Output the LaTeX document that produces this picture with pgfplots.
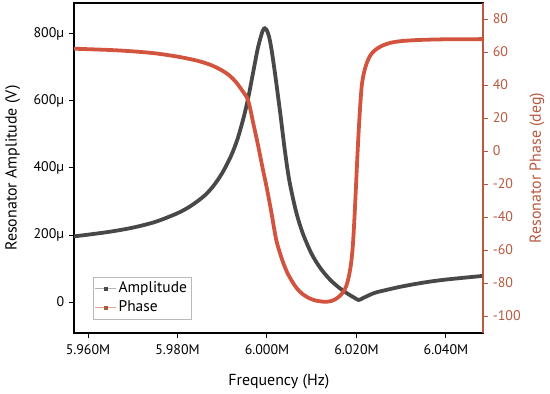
\documentclass[border=0pt]{standalone}
\usepackage{pgfplots}
\pgfplotsset{compat=1.18}
\usepackage{fontspec}
\setmainfont{PT Sans}
\definecolor{ampc}{RGB}{72,72,72}
\definecolor{phc}{RGB}{210,84,62}
\definecolor{phbrown}{RGB}{165,95,60}
\definecolor{raxis}{RGB}{185,88,62}
\begin{document}
\fontsize{14}{16}\selectfont
\begin{tikzpicture}
\path[use as bounding box] (-74bp,-61bp) rectangle (476bp,333bp);
\begin{axis}[
  scale only axis, width=409bp, height=330bp,
  at={(0,0)}, anchor=south west,
  xmin=5.95687, xmax=6.04828,
  ymin=-92.5, ymax=892.5,
  xtick={5.96,5.98,6.00,6.02,6.04},
  xticklabels={5.960M,5.980M,6.000M,6.020M,6.040M},
  ytick={0,200,400,600,800},
  yticklabels={0,200\char"00B5,400\char"00B5,600\char"00B5,800\char"00B5},
  xtick pos=bottom, ytick pos=left,
  tick align=outside, major tick length=5bp,
  axis line style={line width=1.2pt},
  tick style={line width=1pt, black},
  ticklabel style={font=\fontsize{14}{16}\selectfont},
  xticklabel style={yshift=-2bp},
  xlabel={Frequency (Hz)},
  ylabel={Resonator Amplitude (V)},
  label style={font=\fontsize{16}{18}\selectfont},
  xlabel style={at={(axis description cs:0.501,-0.148)}, anchor=center},
  ylabel style={at={(axis description cs:-0.150,0.5)}, anchor=center},
  legend style={at={(axis description cs:0.046,0.042)}, anchor=south west,
    draw=gray!55, line width=0.5pt, font=\fontsize{15.5}{17}\selectfont,
    inner xsep=2pt, inner ysep=3pt, row sep=2pt},
  legend cell align=left,
]
\addplot[ampc, line width=3.8pt, smooth, forget plot] coordinates {
(5.95687,196) (5.9600,201) (5.9650,210) (5.9700,222) (5.9750,239)
(5.9800,265) (5.9830,287) (5.9860,317) (5.9880,346) (5.9900,385)
(5.9920,437) (5.9935,490) (5.9950,562) (5.9960,622) (5.9970,692)
(5.9980,760) (5.9990,808) (5.9995,817) (6.0000,810) (6.0005,790)
(6.0010,755) (6.0015,710) (6.0020,662) (6.0030,560) (6.0040,452)
(6.0050,362) (6.0065,270) (6.0080,205) (6.0100,143) (6.0120,100)
(6.0140,68) (6.0160,44) (6.0180,25) (6.0195,13) (6.0205,6)
(6.0215,12) (6.0240,27) (6.0270,37) (6.0300,46) (6.0350,58)
(6.0400,67) (6.04828,78)
};
\addlegendimage{legend image code/.code={
  \draw[gray!60, line width=0.6pt] (0cm,0cm) -- (0.74cm,0cm);
  \fill[ampc] (0.37cm-1.6pt,-1.6pt) rectangle ++(3.2pt,3.2pt);}}
\addlegendentry{Amplitude}
\addlegendimage{legend image code/.code={
  \draw[phc!55, line width=0.6pt] (0cm,0cm) -- (0.74cm,0cm);
  \fill[phbrown] (0.37cm-1.6pt,-1.6pt) rectangle ++(3.2pt,3.2pt);}}
\addlegendentry{Phase}
\end{axis}
\begin{axis}[
  scale only axis, width=409bp, height=330bp,
  at={(0,0)}, anchor=south west,
  xmin=5.95687, xmax=6.04828,
  ymin=-110.3, ymax=89.7,
  axis x line=none,
  axis y line*=right,
  ytick={-100,-80,-60,-40,-20,0,20,40,60,80},
  tick align=outside, major tick length=5bp,
  y axis line style={line width=1.2pt, raxis, -},
  ytick style={line width=1pt, raxis},
  yticklabel style={font=\fontsize{14}{16}\selectfont, text=raxis},
  /pgf/number format/assume math mode=true,
  ylabel={Resonator Phase (deg)},
  ylabel style={at={(axis description cs:1.132,0.5)}, anchor=center, text=raxis, font=\fontsize{16}{18}\selectfont},
]
\addplot[phc, line width=3.8pt, smooth] coordinates {
(5.95687,62) (5.9650,61.2) (5.9700,60.4) (5.9750,59.2) (5.9800,57.2)
(5.9840,55.0) (5.9870,52.6) (5.9895,49.5) (5.9915,46) (5.9930,42)
(5.9945,36.5) (5.9958,30.5) (5.9970,16) (5.9980,3.5) (5.9990,-10)
(6.0000,-23) (6.0010,-37.5) (6.0020,-53) (6.0028,-61) (6.0036,-67.5)
(6.0045,-73.5) (6.0055,-78.5) (6.0066,-83) (6.0080,-86.8) (6.0095,-89.3)
(6.0110,-90.7) (6.0125,-91.3) (6.0135,-91.3) (6.0145,-90.8) (6.0155,-89.5)
(6.0163,-87.8) (6.0170,-85.5) (6.0177,-82) (6.0183,-76) (6.0188,-68)
(6.0192,-57) (6.0196,-38) (6.0200,-15) (6.0203,2) (6.0206,17)
(6.0209,30) (6.0212,40) (6.0216,46.5) (6.0222,52.5) (6.0230,57.5)
(6.0240,60.8) (6.0255,63.5) (6.0275,65.5) (6.0300,66.6) (6.0340,67.3)
(6.0400,67.7) (6.04828,67.8)
};
\end{axis}
\end{tikzpicture}
\end{document}
